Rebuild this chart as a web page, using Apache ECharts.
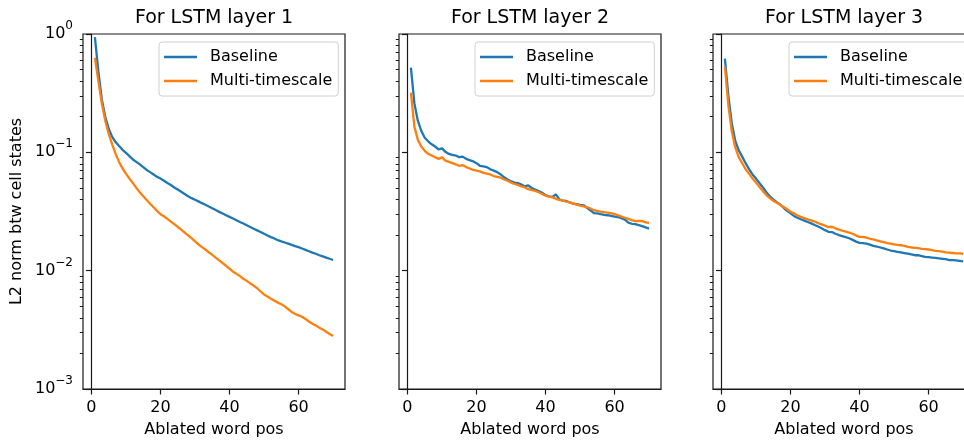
<!DOCTYPE html>
<html>
<head>
<meta charset="utf-8">
<script src="https://cdn.jsdelivr.net/npm/echarts@6/dist/echarts.min.js"></script>
<style>
html,body{margin:0;padding:0;background:#fff;}
#chart{width:964px;height:441px;}
</style>
</head>
<body>
<div id="chart"></div>
<script>
// ---- data ----
const positions = Array.from({length: 70}, (_, i) => i + 1);
const seriesNames = ['Baseline', 'Multi-timescale'];
const panelTitles = ['For LSTM layer 1', 'For LSTM layer 2', 'For LSTM layer 3'];
const xTickValues = [0, 20, 40, 60];
const yMajorTicks = [0.001, 0.01, 0.1, 1];
const yMinorTicks = [0.002,0.003,0.004,0.005,0.006,0.007,0.008,0.009,
                     0.02,0.03,0.04,0.05,0.06,0.07,0.08,0.09,
                     0.2,0.3,0.4,0.5,0.6,0.7,0.8,0.9];

const layer1Baseline = [0.94,0.48,0.28,0.20,0.158,0.135,0.122,0.113,0.105,0.099,
  0.093,0.087,0.083,0.079,0.075,0.071,0.068,0.065,0.062,0.060,
  0.0575,0.055,0.053,0.0505,0.0485,0.0465,0.0445,0.0425,0.041,0.0397,
  0.0385,0.0372,0.0360,0.0348,0.0337,0.0325,0.0314,0.0304,0.0294,0.0285,
  0.0276,0.0267,0.0258,0.0250,0.0242,0.0234,0.0226,0.0219,0.0212,0.0205,
  0.0198,0.0192,0.0187,0.0181,0.0177,0.0173,0.0169,0.0165,0.0161,0.0158,
  0.0154,0.0150,0.0146,0.0142,0.0139,0.0135,0.0132,0.0129,0.0126,0.0123];
const layer1Multi = [0.63,0.40,0.26,0.185,0.143,0.117,0.097,0.083,0.073,0.066,
  0.060,0.055,0.050,0.046,0.0425,0.0395,0.0368,0.0343,0.032,0.030,
  0.0288,0.0274,0.026,0.0247,0.0234,0.0222,0.021,0.0199,0.0188,0.0177,
  0.0167,0.0158,0.0151,0.0143,0.0136,0.0129,0.0122,0.0116,0.0110,0.0104,
  0.0098,0.0094,0.0090,0.00855,0.0082,0.0078,0.00747,0.0071,0.00667,0.0063,
  0.00605,0.0058,0.00556,0.00537,0.0052,0.00499,0.00472,0.00448,0.0043,0.00419,
  0.00408,0.0039,0.00372,0.00356,0.00344,0.0033,0.00318,0.00305,0.00292,0.0028];
const layer2Baseline = [0.52,0.26,0.185,0.152,0.133,0.124,0.117,0.112,0.106,0.108,
  0.101,0.097,0.095,0.094,0.091,0.092,0.088,0.086,0.084,0.081,
  0.077,0.076,0.075,0.072,0.070,0.068,0.065,0.0615,0.059,0.057,
  0.0555,0.055,0.0535,0.0515,0.0525,0.050,0.0484,0.047,0.0455,0.0435,
  0.0425,0.042,0.0442,0.040,0.039,0.0388,0.0378,0.0369,0.0365,0.036,
  0.0357,0.034,0.0324,0.0307,0.0305,0.0300,0.0296,0.0294,0.029,0.0286,
  0.0283,0.0278,0.027,0.0255,0.0249,0.0247,0.0243,0.0238,0.0232,0.0227];
const layer2Multi = [0.32,0.165,0.128,0.112,0.103,0.097,0.094,0.091,0.088,0.091,
  0.085,0.083,0.081,0.079,0.077,0.078,0.075,0.073,0.071,0.070,
  0.069,0.067,0.066,0.065,0.063,0.062,0.061,0.059,0.0575,0.0555,
  0.054,0.053,0.0515,0.0505,0.0488,0.048,0.0472,0.046,0.0445,0.043,
  0.0422,0.0416,0.0405,0.0396,0.039,0.0383,0.0378,0.037,0.0362,0.0355,
  0.035,0.0345,0.0335,0.0324,0.032,0.0315,0.0312,0.031,0.0306,0.030,
  0.0293,0.0286,0.028,0.0274,0.0267,0.0262,0.0264,0.0262,0.0256,0.0253];
const layer3Baseline = [0.62,0.30,0.175,0.125,0.104,0.092,0.081,0.072,0.065,0.060,
  0.055,0.0505,0.046,0.0425,0.040,0.038,0.0362,0.034,0.032,0.0305,
  0.029,0.028,0.0272,0.0265,0.0258,0.0251,0.0243,0.0236,0.0228,0.022,
  0.0213,0.0212,0.0205,0.020,0.0196,0.0192,0.0188,0.0182,0.0176,0.0172,
  0.0171,0.0169,0.0166,0.0162,0.016,0.0157,0.0154,0.0151,0.0148,0.0146,
  0.0144,0.0143,0.0141,0.0139,0.0137,0.0135,0.0135,0.0133,0.0131,0.013,
  0.0129,0.0128,0.0127,0.0126,0.0125,0.0123,0.0123,0.0122,0.0121,0.012];
const layer3Multi = [0.53,0.25,0.15,0.11,0.091,0.081,0.072,0.066,0.060,0.0555,
  0.051,0.047,0.0435,0.041,0.039,0.0375,0.036,0.0345,0.033,0.0315,
  0.0305,0.0293,0.0285,0.0278,0.0271,0.0266,0.026,0.0252,0.0246,0.024,
  0.0233,0.0235,0.0228,0.0222,0.0218,0.0214,0.021,0.0205,0.0198,0.0193,
  0.0193,0.019,0.0186,0.0184,0.018,0.0177,0.0174,0.0171,0.0169,0.0167,
  0.0165,0.0164,0.0162,0.0159,0.0157,0.0156,0.0155,0.0153,0.0152,0.0151,
  0.0149,0.0147,0.0146,0.0145,0.0143,0.0142,0.0141,0.014,0.014,0.0139];

const panels = [
  [layer1Baseline, layer1Multi],
  [layer2Baseline, layer2Multi],
  [layer3Baseline, layer3Multi]
];

// ---- style / layout ----
const FONT = 'DejaVu Sans';
const colors = ['#1f77b4', '#ff7f0e'];
const gridLefts = [83, 399, 713];
const gridW = 262, gridTop = 34, gridH = 355;
const AX = '#1a1a1a';

function supLabel(v) {
  const e = Math.round(Math.log10(v));
  const s = e < 0 ? '\u2212' + (-e) : String(e);
  return '{b|10}{s|' + s + '}';
}

const grids = [], xAxes = [], yAxes = [], series = [], titles = [], legends = [];
gridLefts.forEach((gl, i) => {
  grids.push({left: gl, top: gridTop, width: gridW, height: gridH,
    show: true, borderColor: AX, borderWidth: 1.2, backgroundColor: 'transparent',
    outerBoundsMode: 'none', containLabel: false});
  xAxes.push({type: 'value', gridIndex: i, min: -2.45, max: 73.45, position: 'bottom',
    name: 'Ablated word pos', nameLocation: 'middle', nameGap: 33,
    nameTextStyle: {fontFamily: FONT, fontSize: 16, color: '#000'},
    axisLine: {show: true, lineStyle: {color: AX, width: 1.2}},
    axisTick: {show: true, customValues: xTickValues, length: 5.5, lineStyle: {color: AX, width: 1.2}},
    axisLabel: {show: true, customValues: xTickValues, margin: 11, fontFamily: FONT, fontSize: 16, color: '#000'},
    splitLine: {show: false}, minorTick: {show: false}});
  // major log axis
  yAxes.push({type: 'log', logBase: 10, gridIndex: i, min: 0.001, max: 1, position: 'left',
    name: i === 0 ? 'L2 norm btw cell states' : '', nameLocation: 'middle', nameGap: 58, nameRotate: 90,
    nameTextStyle: {fontFamily: FONT, fontSize: 16, color: '#000'},
    axisLine: {show: true, lineStyle: {color: AX, width: 1.2}},
    axisTick: {show: true, customValues: yMajorTicks, length: 5.5, lineStyle: {color: AX, width: 1.2}},
    axisLabel: {show: i === 0, customValues: yMajorTicks, margin: 10, showMinLabel: true, showMaxLabel: true,
      formatter: supLabel, fontFamily: FONT, color: '#000',
      rich: {b: {fontFamily: FONT, fontSize: 16, lineHeight: 28, color: '#000'},
             s: {fontFamily: FONT, fontSize: 12, lineHeight: 18, verticalAlign: 'top', color: '#000'}}},
    splitLine: {show: false}});
  // minor tick axis
  yAxes.push({type: 'log', logBase: 10, gridIndex: i, min: 0.001, max: 1, position: 'left',
    axisLine: {show: false},
    axisTick: {show: true, customValues: yMinorTicks, length: 3.2, lineStyle: {color: AX, width: 1}},
    axisLabel: {show: false}, splitLine: {show: false}});

  panels[i].forEach((vals, k) => {
    series.push({name: seriesNames[k], type: 'line', xAxisIndex: i, yAxisIndex: 2 * i,
      data: positions.map((p, j) => [p, vals[j]]),
      showSymbol: false, symbol: 'none', smooth: false, animation: false,
      lineStyle: {color: colors[k], width: 2.3}, itemStyle: {color: colors[k]}, z: 2 + k});
  });

  titles.push({text: panelTitles[i], left: gl + gridW / 2, top: 9, textAlign: 'center', padding: 0,
    textStyle: {fontFamily: FONT, fontSize: 19, fontWeight: 'normal', color: '#000'}});

  legends.push({data: seriesNames, orient: 'vertical', left: gl + 76, top: 42,
    padding: [7, 6, 7, 5], itemGap: 8, itemWidth: 33, itemHeight: 2.4, icon: 'rect',
    backgroundColor: 'rgba(255,255,255,0.8)', borderColor: '#d0d0d0', borderWidth: 1, borderRadius: 3,
    selectedMode: false, z: 10,
    textStyle: {fontFamily: FONT, fontSize: 16, lineHeight: 16, color: '#000', padding: [0, 0, 0, 8]}});
});

const chart = echarts.init(document.getElementById('chart'), null, {renderer: 'canvas'});
chart.setOption({
  animation: false,
  backgroundColor: '#fff',
  color: colors,
  textStyle: {fontFamily: FONT},
  title: titles,
  legend: legends,
  grid: grids,
  xAxis: xAxes,
  yAxis: yAxes,
  series: series
});
</script>
</body>
</html>
